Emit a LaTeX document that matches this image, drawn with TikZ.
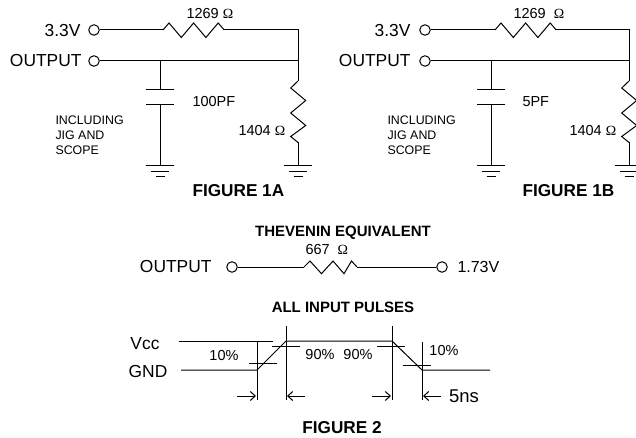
\documentclass[tikz,border=0pt]{standalone}
\usepackage{fontspec}
\setmainfont{Liberation Sans}
\newfontfamily\ohmfont{Liberation Serif}
\usepackage{tikz}
\usetikzlibrary{arrows.meta,positioning,calc}
\newcommand{\ohmsym}{{\ohmfont\fontsize{14}{14}\selectfont Ω}}
\tikzset{
	term/.style={circle, draw, line width=1pt, minimum size=10.5pt, inner sep=0pt},
	lbl/.style={inner sep=0pt, font=\fontsize{14.5}{14.5}\selectfont},
	big/.style={inner sep=0pt, font=\fontsize{17.4}{17.4}\selectfont},
	note/.style={inner sep=0pt, anchor=west, font=\fontsize{12.4}{12.4}\selectfont},
	fig/.style={inner sep=0pt, font=\bfseries\fontsize{17.2}{17.2}\selectfont},
	head/.style={inner sep=0pt, font=\bfseries\fontsize{15}{15}\selectfont},
	hres/.pic={\draw (0,0) -- ++(6,-7) -- ++(12.3,14.5) -- ++(12.3,-14.5) -- ++(12.3,14.5) -- ++(12.3,-14.5) -- ++(6,7);},
	vres/.pic={\draw (0,0) -- ++(-7.3,7) -- ++(15,12.5) -- ++(-15,12.5) -- ++(15,12.5) -- ++(-15,11) -- ++(7.3,6);},
	tres/.pic={\draw (0,0) -- ++(6,-6) -- ++(11.5,12.7) -- ++(11.5,-12.7) -- ++(11,12.7) -- ++(7.5,-12.7) -- ++(5.5,6);},
	gnd/.pic={\draw (-14.3,0) -- (14.3,0) (-9.3,5.2) -- (9.3,5.2) (-4.5,11) -- (4.5,11);}
}

\begin{document}
\begin{tikzpicture}[x=1pt, y=-1pt, line width=1pt, >={Straight Barb[length=5pt,width=9pt]}]
	\clip (0,0) rectangle (636,438);
	% figure 1A
	\node at (94,30) [term] (Va) {};
	\node at (94,61) [term] (Oa) {};
	\node at (81,31) [big, anchor=east] (VaL) {3.3V};
	\node at (82,61) [big, anchor=east] (OaL) {OUTPUT};
	\coordinate (Ra) at (163,30);
	\coordinate (RaE) at (224,30);
	\coordinate (Ca) at (298,30);
	\coordinate (Ja) at (298,61);
	\coordinate (Qa) at (298,81);
	\coordinate (QaE) at (298,142);
	\coordinate (Ga) at (298,166);
	\coordinate (Ta) at (160,61);
	\coordinate (Pa) at (160,90);
	\coordinate (Pb) at (160,105);
	\coordinate (Gb) at (160,166);
	\pic at (Ra) {hres};
	\pic at (Qa) {vres};
	\pic at (Ga) {gnd};
	\pic at (Gb) {gnd};
	\draw (Va.east) -- (Ra);
	\draw (RaE) -- (Ca) -- (Qa);
	\draw (QaE) -- (Ga);
	\draw (Oa.east) -- (Ja);
	\draw (Ta) -- (Pa);
	\draw (Pb) -- (Gb);
	\draw ($(Pa)+(-14,0)$) -- ($(Pa)+(14,0)$);
	\draw ($(Pb)+(-14,0)$) -- ($(Pb)+(14,0)$);
	\node at (186,14) [lbl, anchor=west] (Rt) {1269 \ohmsym};
	\node at (238,131) [lbl, anchor=west] (Qt) {1404 \ohmsym};
	\node at (192,102) [lbl, anchor=west] (Ct) {100PF};
	\node at (55,120) [note] (Na) {INCLUDING};
	\node at (55,135) [note] (Nb) {JIG AND};
	\node at (55,150) [note] (Nc) {SCOPE};
	\node at (192,191) [fig, anchor=west] (Fa) {FIGURE 1A};
	% figure 1B
	\node at (425,30) [term] (Vb) {};
	\node at (425,61) [term] (Ob) {};
	\node at (411,31) [big, anchor=east] (VbL) {3.3V};
	\node at (411,61) [big, anchor=east] (ObL) {OUTPUT};
	\coordinate (Rb) at (495,30);
	\coordinate (RbE) at (555,30);
	\coordinate (Cb) at (629,30);
	\coordinate (Jb) at (629,61);
	\coordinate (Sa) at (629,81);
	\coordinate (SaE) at (629,142);
	\coordinate (Gc) at (629,166);
	\coordinate (Tb) at (491,61);
	\coordinate (Ua) at (491,90);
	\coordinate (Ub) at (491,105);
	\coordinate (Gd) at (491,166);
	\pic at (Rb) {hres};
	\pic at (Sa) {vres};
	\pic at (Gc) {gnd};
	\pic at (Gd) {gnd};
	\draw (Vb.east) -- (Rb);
	\draw (RbE) -- (Cb) -- (Sa);
	\draw (SaE) -- (Gc);
	\draw (Ob.east) -- (Jb);
	\draw (Tb) -- (Ua);
	\draw (Ub) -- (Gd);
	\draw ($(Ua)+(-14,0)$) -- ($(Ua)+(14,0)$);
	\draw ($(Ub)+(-14,0)$) -- ($(Ub)+(14,0)$);
	\node at (513,14) [lbl, anchor=west] (St) {1269\hspace{8pt}\ohmsym};
	\node at (569,131) [lbl, anchor=west] (Su) {1404 \ohmsym};
	\node at (522,102) [lbl, anchor=west] (Cu) {5PF};
	\node at (387,120) [note] (Nd) {INCLUDING};
	\node at (387,135) [note] (Ne) {JIG AND};
	\node at (387,150) [note] (Nf) {SCOPE};
	\node at (522,191) [fig, anchor=west] (Fb) {FIGURE 1B};
	% thevenin
	\node at (343,233) [head] (Th) {THEVENIN EQUIVALENT};
	\node at (232,267) [term] (Oc) {};
	\node at (442,267) [term] (Vc) {};
	\node at (212,267) [big, anchor=east] (OcL) {OUTPUT};
	\node at (457,267) [big, anchor=west, font=\fontsize{16}{16}\selectfont] (VcL) {1.73V};
	\coordinate (Rc) at (304,267);
	\coordinate (RcE) at (357,267);
	\pic at (Rc) {tres};
	\draw (Oc.east) -- (Rc);
	\draw (RcE) -- (Vc.west);
	\node at (305,250) [lbl, anchor=west] (Rr) {667\hspace{8pt}\ohmsym};
	% pulses
	\node at (343,307) [head] (Pu) {ALL INPUT PULSES};
	\node at (145,344) [big] (Vcc) {Vcc};
	\node at (148,372) [big] (Gn) {GND};
	\coordinate (a) at (257,370);
	\coordinate (b) at (286,341);
	\coordinate (c) at (392,341);
	\coordinate (d) at (422,370);
	\draw (179,341) -- (273,341);
	\draw (181,370) -- (a) -- (b) -- (c) -- (d) -- (490,370);
	\draw (257,341) -- (257,400);
	\draw (286,326) -- (286,400);
	\draw (392,326) -- (392,400);
	\draw (422,342) -- (422,400);
	\draw (249,363) -- (277,363);
	\draw (272,346) -- (300,346);
	\draw (377,346) -- (405,346);
	\draw (403,365) -- (431,365);
	\draw[->] (237,396) -- (256,396);
	\draw[->] (305,396) -- (287,396);
	\draw[->] (372,396) -- (391,396);
	\draw[->] (441,396) -- (423,396);
	\node at (224,356) [lbl] (Ta1) {10\%};
	\node at (320,355) [lbl] (Ta2) {90\%};
	\node at (358,355) [lbl] (Ta3) {90\%};
	\node at (444,351) [lbl] (Ta4) {10\%};
	\node at (464,396) [big, font=\fontsize{18.5}{18.5}\selectfont] (Ns) {5ns};
	\node at (342,428) [fig] (Fc) {FIGURE 2};
\end{tikzpicture}
\end{document}
